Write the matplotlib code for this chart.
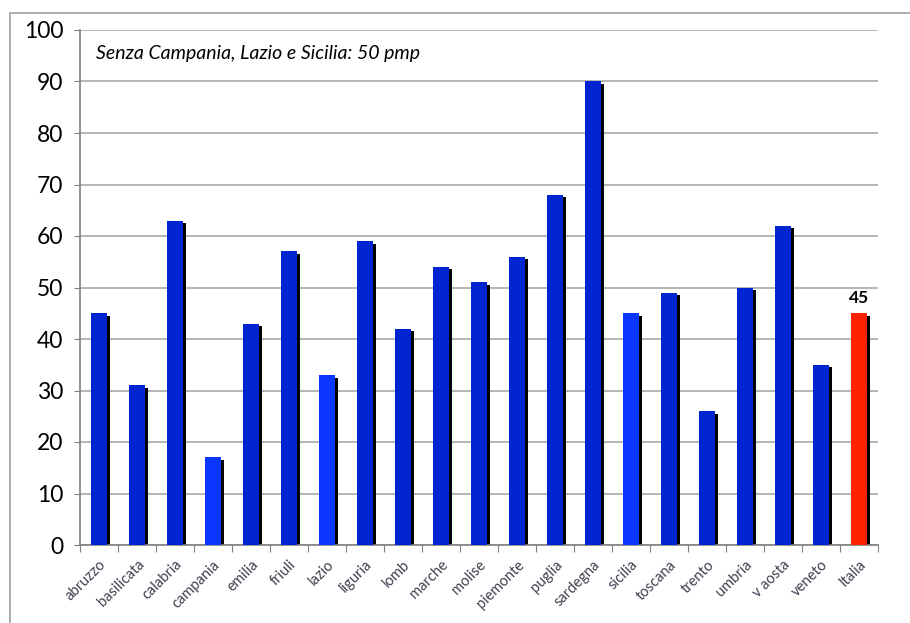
import matplotlib
matplotlib.use("Agg")
import matplotlib.pyplot as plt
from matplotlib.patches import Rectangle

categories = ["abruzzo", "basilicata", "calabria", "campania", "emilia", "friuli",
              "lazio", "liguria", "lomb", "marche", "molise", "piemonte", "puglia",
              "sardegna", "sicilia", "toscana", "trento", "umbria", "v aosta",
              "veneto", "Italia"]
values = [45, 31, 63, 17, 43, 57, 33, 59, 42, 54, 51, 56, 68, 90, 45, 49, 26, 50,
          62, 35, 45]
highlight_bright = ["campania", "lazio", "sicilia"]
annotation = "Senza Campania, Lazio e Sicilia: 50 pmp"
yticks = [0, 10, 20, 30, 40, 50, 60, 70, 80, 90, 100]

plt.rcParams['font.family'] = ['Lato', 'DejaVu Sans']

fig = plt.figure(figsize=(9.1, 6.23), dpi=100)
ax = fig.add_axes([80/910, 1-545/623, (878-80)/910, (545-30)/623])

# figure frame
fig.patches.append(Rectangle((10/910, -0.1), 1.2, 1 - 13/623 + 0.1,
                             transform=fig.transFigure, fill=False,
                             edgecolor="#a0a0a0", linewidth=1.2))

colors = []
for c in categories:
    if c == "Italia":
        colors.append("#ff2200")
    elif c in highlight_bright:
        colors.append("#0a36ff")
    else:
        colors.append("#0024cf")

x = list(range(len(categories)))
w = 0.40
ax.bar([xi + 0.08 for xi in x], [v - 0.5 for v in values], width=w, color="black", zorder=2)
ax.bar(x, values, width=w, color=colors, zorder=3)

ax.set_xlim(-0.5, len(categories) - 0.5)
ax.set_ylim(0, 100)
ax.set_yticks(yticks)
ax.set_yticklabels([str(t) for t in yticks], fontsize=16.5)
ax.yaxis.grid(True, color="#b0b0b0", linewidth=1.3, zorder=0)
ax.set_axisbelow(True)

ax.set_xticks([xi - 0.5 for xi in x] + [len(categories) - 0.5])
ax.set_xticklabels([])
ax.set_xticks(x, minor=True)
ax.set_xticklabels(categories, minor=True, rotation=45, ha="right",
                   rotation_mode="anchor", fontsize=10.5, color="#404050")
ax.tick_params(axis="x", which="minor", length=0, pad=9)
ax.tick_params(axis="x", which="major", length=5, color="#808080", direction="out")
ax.tick_params(axis="y", length=4, color="#808080", pad=8)

for s in ["top", "right"]:
    ax.spines[s].set_visible(False)
for s in ["left", "bottom"]:
    ax.spines[s].set_color("#808080")
    ax.spines[s].set_linewidth(1.2)

ax.text(0.02, 0.955, annotation, transform=ax.transAxes, fontsize=14,
        style="italic", va="center", ha="left")
ax.text(x[-1], values[-1] + 1.5, str(values[-1]), ha="center", va="bottom",
        fontsize=12.5, fontweight="bold")

fig.savefig("out.png", dpi=100)
